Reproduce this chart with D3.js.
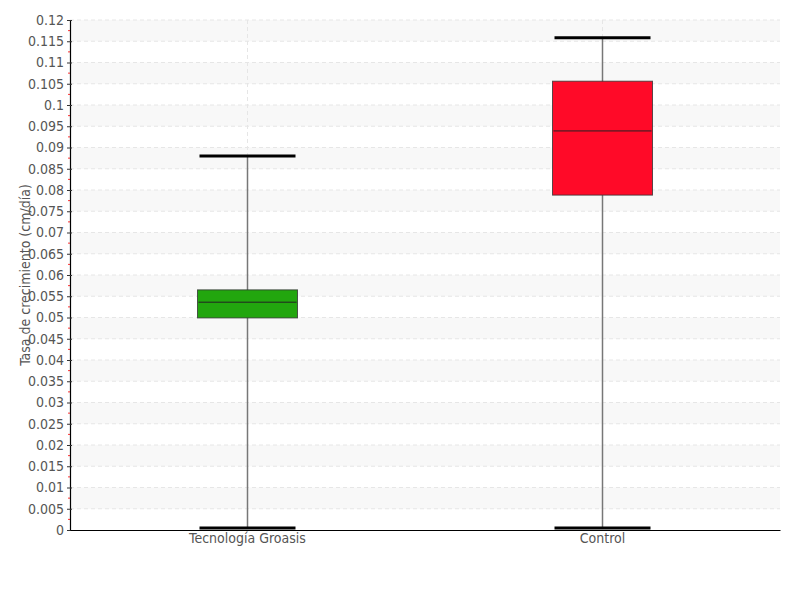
<!DOCTYPE html>
<html>
<head>
<meta charset="utf-8">
<script src="https://cdn.jsdelivr.net/npm/d3@7"></script>
<style>
  body { margin: 0; background: #fff; }
  svg { display: block; }
  text { font-family: "DejaVu Sans Condensed", "DejaVu Sans", sans-serif; font-stretch: condensed; fill: #555; }
</style>
</head>
<body>
<svg id="chart" width="800" height="600"></svg>
<script>
// categories and box statistics
const categories = ["Tecnología Groasis", "Control"];
const whiskerLow = [0.0005, 0.0005];
const q1 = [0.0499, 0.0788];
const median = [0.0536, 0.0939];
const q3 = [0.0565, 0.1056];
const whiskerHigh = [0.088, 0.1158];
const colors = ["#22a60e", "#ff0a28"];
const yTicks = d3.range(0, 0.1201, 0.005).map(v => +v.toFixed(3));

const svg = d3.select("#chart");
const margin = { left: 70, right: 20, top: 20, bottom: 70 };
const W = 800, H = 600;
const x = d3.scaleBand().domain(categories).range([margin.left, W - margin.right]);
const y = d3.scaleLinear().domain([0, 0.12]).range([H - margin.bottom, margin.top]);

// alternating bands
const bands = d3.pairs(yTicks.slice().reverse());
svg.append("g").selectAll("rect")
  .data(bands.filter((d, i) => i % 2 === 0))
  .join("rect")
  .attr("x", margin.left)
  .attr("width", W - margin.right - margin.left)
  .attr("y", d => y(d[0]))
  .attr("height", d => y(d[1]) - y(d[0]))
  .attr("fill", "#f8f8f8");

// horizontal grid
svg.append("g").selectAll("line")
  .data(yTicks.filter(v => v > 0))
  .join("line")
  .attr("x1", margin.left).attr("x2", W - margin.right)
  .attr("y1", d => y(d)).attr("y2", d => y(d))
  .attr("stroke", "#e6e6e6").attr("stroke-dasharray", "4,3");

// vertical category grid
svg.append("g").selectAll("line")
  .data(categories)
  .join("line")
  .attr("x1", d => x(d) + x.bandwidth() / 2).attr("x2", d => x(d) + x.bandwidth() / 2)
  .attr("y1", margin.top).attr("y2", H - margin.bottom)
  .attr("stroke", "#e6e6e6").attr("stroke-dasharray", "4,3");

// boxes
const boxW = 100, capW = 96;
const g = svg.append("g").selectAll("g")
  .data(categories.map((c, i) => ({ c, i })))
  .join("g")
  .attr("transform", d => `translate(${x(d.c) + x.bandwidth() / 2},0)`);

g.append("line")
  .attr("y1", d => y(whiskerLow[d.i])).attr("y2", d => y(whiskerHigh[d.i]))
  .attr("stroke", "#777").attr("stroke-width", 1.5);
g.append("rect")
  .attr("x", -boxW / 2).attr("width", boxW)
  .attr("y", d => y(q3[d.i]))
  .attr("height", d => y(q1[d.i]) - y(q3[d.i]))
  .attr("fill", d => colors[d.i])
  .attr("stroke", "#333").attr("stroke-opacity", 0.8);
g.append("line")
  .attr("x1", -boxW / 2 + 1).attr("x2", boxW / 2 - 1)
  .attr("y1", d => y(median[d.i])).attr("y2", d => y(median[d.i]))
  .attr("stroke", "#222").attr("stroke-width", 1);
[whiskerHigh, whiskerLow].forEach(arr => {
  g.append("line")
    .attr("x1", -capW / 2).attr("x2", capW / 2)
    .attr("y1", d => y(arr[d.i])).attr("y2", d => y(arr[d.i]))
    .attr("stroke", "#000").attr("stroke-width", 3);
});

// minor ticks (red)
svg.append("g").selectAll("line")
  .data(d3.pairs(yTicks).map(p => (p[0] + p[1]) / 2))
  .join("line")
  .attr("x1", margin.left - 2).attr("x2", margin.left)
  .attr("y1", d => y(d)).attr("y2", d => y(d))
  .attr("stroke", "#f33").attr("stroke-width", 1);

// y axis
const yAxis = svg.append("g")
  .attr("transform", `translate(${margin.left},0)`)
  .call(d3.axisLeft(y).tickValues(yTicks).tickSize(3).tickPadding(3)
    .tickFormat(d => d3.format("")(+d.toFixed(3))));
yAxis.attr("font-family", null);
yAxis.select(".domain").attr("stroke", "#000").attr("stroke-width", 1.2);
yAxis.selectAll(".tick line").attr("stroke", "#333").attr("x2", 2).attr("x1", -3);
yAxis.selectAll("text").attr("font-size", 14).attr("fill", "#555");

// x axis
const xAxis = svg.append("g")
  .attr("transform", `translate(0,${H - margin.bottom})`)
  .call(d3.axisBottom(x).tickSize(0).tickPadding(3));
xAxis.attr("font-family", null);
xAxis.select(".domain").attr("stroke", "#000").attr("stroke-width", 1.2);
xAxis.selectAll("text").attr("font-size", 14).attr("fill", "#555");

// y title
svg.append("text")
  .attr("transform", `translate(30,${(margin.top + H - margin.bottom) / 2}) rotate(-90)`)
  .attr("text-anchor", "middle")
  .attr("font-size", 14)
  .text("Tasa de crecimiento (cm/día)");
</script>
</body>
</html>
